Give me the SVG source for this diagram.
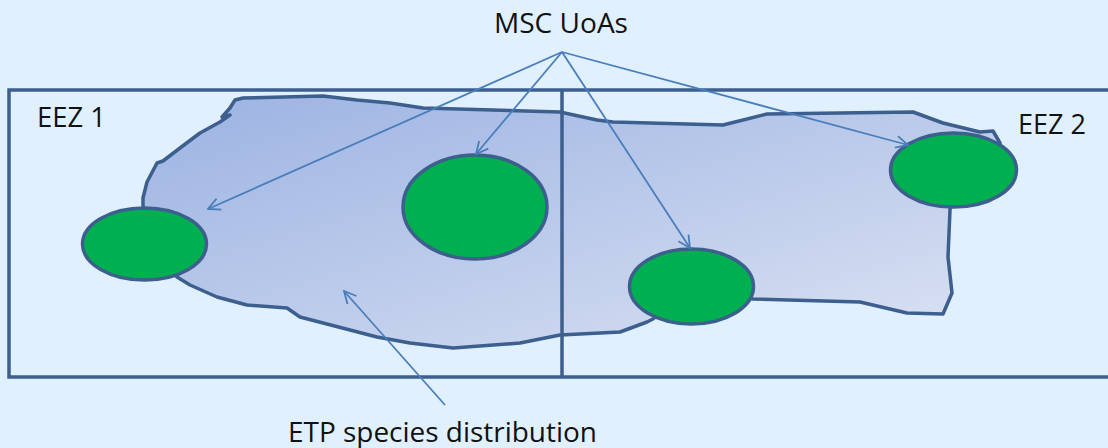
<svg xmlns="http://www.w3.org/2000/svg" width="1108" height="448" viewBox="0 0 1108 448">
  <style>
    .lbl { font-family: "Open Sans", "Liberation Sans", sans-serif; font-size: 27px; fill: #111111; }
    .frame { fill: none; stroke: #3C5F8E; stroke-width: 3.5; }
    .uoa { fill: #00B050; stroke: #3C5F8E; stroke-width: 3.5; }
    .conn { fill: none; stroke: #4A7EBB; stroke-width: 1.8; marker-end: url(#open); }
  </style>
  <defs>
    <linearGradient id="blobGrad" x1="0" y1="0" x2="1" y2="1">
      <stop offset="0" stop-color="#9BB2E2"/>
      <stop offset="1" stop-color="#DCE3F3"/>
    </linearGradient>
    <marker id="open" viewBox="0 0 14 14" refX="13" refY="7" markerWidth="14" markerHeight="14" markerUnits="userSpaceOnUse" orient="auto">
      <path d="M1,1 L13,7 L1,13" fill="none" stroke="#4A7EBB" stroke-width="1.8"/>
    </marker>
  </defs>
  <rect x="0" y="0" width="1108" height="448" fill="#E0F0FF"/>

  <g id="etp-distribution">
    <path d="M243,98 L323,96 L357,100 L390,103 L423,108 L560,112 L597,120 L613,122 L723,125 L767,114 L913,112 L943,123 L980,132 L993,131 L1000,143 L953,170 L950,210 L948,257 L952,293 L943,314 L907,313 L860,302 L753,299 L691,286 L653,319 L647,322 L620,332 L560,335 L520,343 L453,348 L410,343 L377,337 L350,330 L300,317 L287,308 L247,305 L217,297 L190,285 L177,277 L145,244 L143,205 L143,198 L147,182 L157,163 L163,161 L180,148 L200,133 L220,122 L230,115 L222,117 L230,108 L235,100 Z" fill="url(#blobGrad)" stroke="#3C5F8E" stroke-width="3.5" stroke-linejoin="round"/>
  </g>

  <g id="eez-frame">
    <rect class="frame" x="9" y="90" width="1110" height="287"/>
    <line class="frame" x1="562" y1="90" x2="562" y2="377"/>
  </g>

  <g id="uoa-1"><ellipse class="uoa" cx="144.5" cy="244" rx="62" ry="36"/></g>
  <g id="uoa-2"><ellipse class="uoa" cx="475" cy="207" rx="72" ry="52"/></g>
  <g id="uoa-3"><ellipse class="uoa" cx="691.5" cy="286.5" rx="62" ry="37.5"/></g>
  <g id="uoa-4"><ellipse class="uoa" cx="953.5" cy="170" rx="63" ry="37"/></g>

  <g id="connectors">
    <line class="conn" x1="562" y1="52" x2="208" y2="209"/>
    <line class="conn" x1="562" y1="52" x2="476" y2="154"/>
    <line class="conn" x1="562" y1="52" x2="690" y2="248"/>
    <line class="conn" x1="562" y1="52" x2="908" y2="145"/>
    <line class="conn" x1="445" y1="405" x2="344" y2="291"/>
  </g>

  <g id="labels">
    <text class="lbl" x="561" y="33" text-anchor="middle" textLength="134" lengthAdjust="spacingAndGlyphs">MSC UoAs</text>
    <text class="lbl" x="37" y="127" textLength="69" lengthAdjust="spacingAndGlyphs">EEZ 1</text>
    <text class="lbl" x="1018" y="134" textLength="68" lengthAdjust="spacingAndGlyphs">EEZ 2</text>
    <text class="lbl" x="288" y="442" textLength="309" lengthAdjust="spacingAndGlyphs">ETP species distribution</text>
  </g>
</svg>
